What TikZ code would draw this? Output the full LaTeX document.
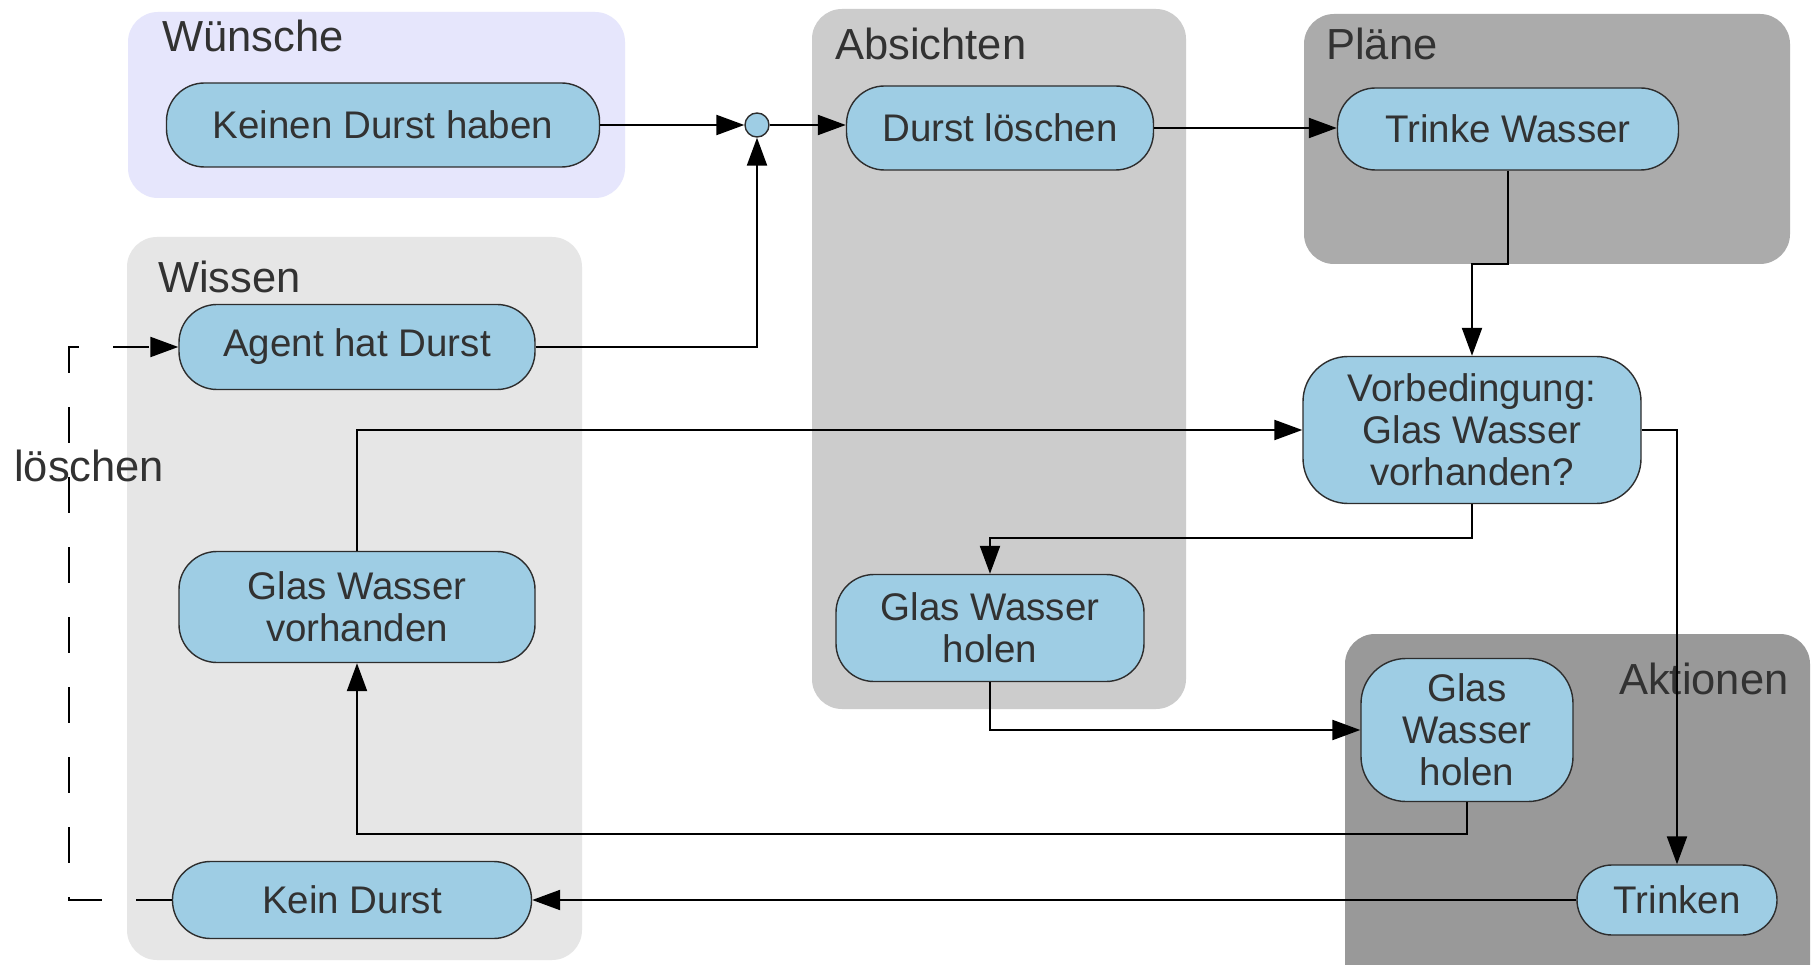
\documentclass[tikz,border=0pt]{standalone}
\usepackage{fontspec}
\setmainfont{Liberation Sans}
\usetikzlibrary{arrows.meta}
\definecolor{boxfill}{RGB}{158,205,228}
\definecolor{boxline}{RGB}{45,45,45}
\definecolor{txt}{RGB}{50,50,50}
\definecolor{wishbg}{RGB}{230,230,252}
\definecolor{knowbg}{RGB}{230,230,230}
\definecolor{intentbg}{RGB}{204,204,204}
\definecolor{planbg}{RGB}{171,171,171}
\definecolor{actbg}{RGB}{153,153,153}
\tikzset{
  state/.style={draw=boxline, line width=1.4pt, fill=boxfill, rounded corners=38pt,
    align=center, text=txt, inner sep=0pt,
    font=\fontsize{38.5}{42}\selectfont},
  junction/.style={circle, draw=boxline, line width=1.4pt, fill=boxfill,
    minimum size=24pt, inner sep=0pt},
  region/.style={rounded corners=30pt},
  regionlabel/.style={anchor=base west, text=txt, inner sep=0pt,
    font=\fontsize{43.5}{48}\selectfont},
  flow/.style={line width=2.2pt, -{Triangle[length=28pt,width=20pt]}},
}
\begin{document}
\begin{tikzpicture}[x=1pt,y=-1pt]
\clip (0,0) rectangle (1813,965);
\fill[white] (0,0) rectangle (1813,965);

% background regions
\fill[wishbg, region]   (128,12)  rectangle (625,198);
\fill[knowbg, region]   (127,237) rectangle (582,960);
\fill[intentbg, region] (812,9)   rectangle (1186,709);
\fill[planbg, region]   (1304,14) rectangle (1790,264);
\fill[actbg, region]    (1345,634) rectangle (1810,1010);

\node[regionlabel] (lw) at (162,52)  {Wünsche};
\node[regionlabel] (lk) at (158,293) {Wissen};
\node[regionlabel] (li) at (835,60)  {Absichten};
\node[regionlabel] (lp) at (1326,60) {Pläne};
\node[regionlabel] (la) at (1619,694) {Aktionen};
\node[regionlabel] (ll) at (14,481)  {löschen};

% states
\node[state, minimum width=433pt, minimum height=84pt] (kdh) at (383,125) {Keinen Durst haben};
\node[junction] (jn) at (757,125) {};
\node[state, minimum width=307pt, minimum height=84pt] (dl) at (1000,128) {Durst löschen};
\node[state, minimum width=341pt, minimum height=82pt] (tw) at (1508,129) {Trinke Wasser};
\node[state, minimum width=356pt, minimum height=85pt] (ahd) at (357,347) {Agent hat Durst};
\node[state, minimum width=338pt, minimum height=147pt, rounded corners=45pt] (vb) at (1472,430)
  {Vorbedingung:\\Glas Wasser\\vorhanden?};
\node[state, minimum width=356pt, minimum height=111pt] (gwv) at (357,607) {Glas Wasser\\vorhanden};
\node[state, minimum width=308pt, minimum height=107pt] (gwh1) at (990,628) {Glas Wasser\\holen};
\node[state, minimum width=212pt, minimum height=143pt, rounded corners=45pt] (gwh2) at (1467,730)
  {Glas\\Wasser\\holen};
\node[state, minimum width=200pt, minimum height=70pt, rounded corners=35pt] (tr) at (1677,900) {Trinken};
\node[state, minimum width=359pt, minimum height=77pt] (kd) at (352,900) {Kein Durst};

\coordinate (loopx) at (69,0);

% connectors
\draw[flow] (kdh.east) -- (jn.west);
\draw[flow] (ahd.east) -| (jn.south);
\draw[flow] (jn.east) -- (jn.east -| dl.west);
\draw[flow] (dl.east) -- (dl.east -| tw.west);
\draw[flow] (tw.south) -- (tw.south |- 0,264) -| (vb.north);
\draw[flow] (gwv.north) |- (vb.west);
\draw[flow] (vb.south) -- (vb.south |- 0,538) -| (gwh1.north);
\draw[flow] (vb.east) -| (tr.north);
\draw[flow] (gwh1.south) |- (gwh2.west);
\draw[flow] (gwh2.south) -- (gwh2.south |- 0,834) -| (gwv.south);
\draw[flow] (tr.west) -- (kd.east);
\draw[flow, dash pattern=on 36pt off 34pt] (kd.west) -- (kd.west -| loopx) |- (ahd.west);
\end{tikzpicture}
\end{document}
